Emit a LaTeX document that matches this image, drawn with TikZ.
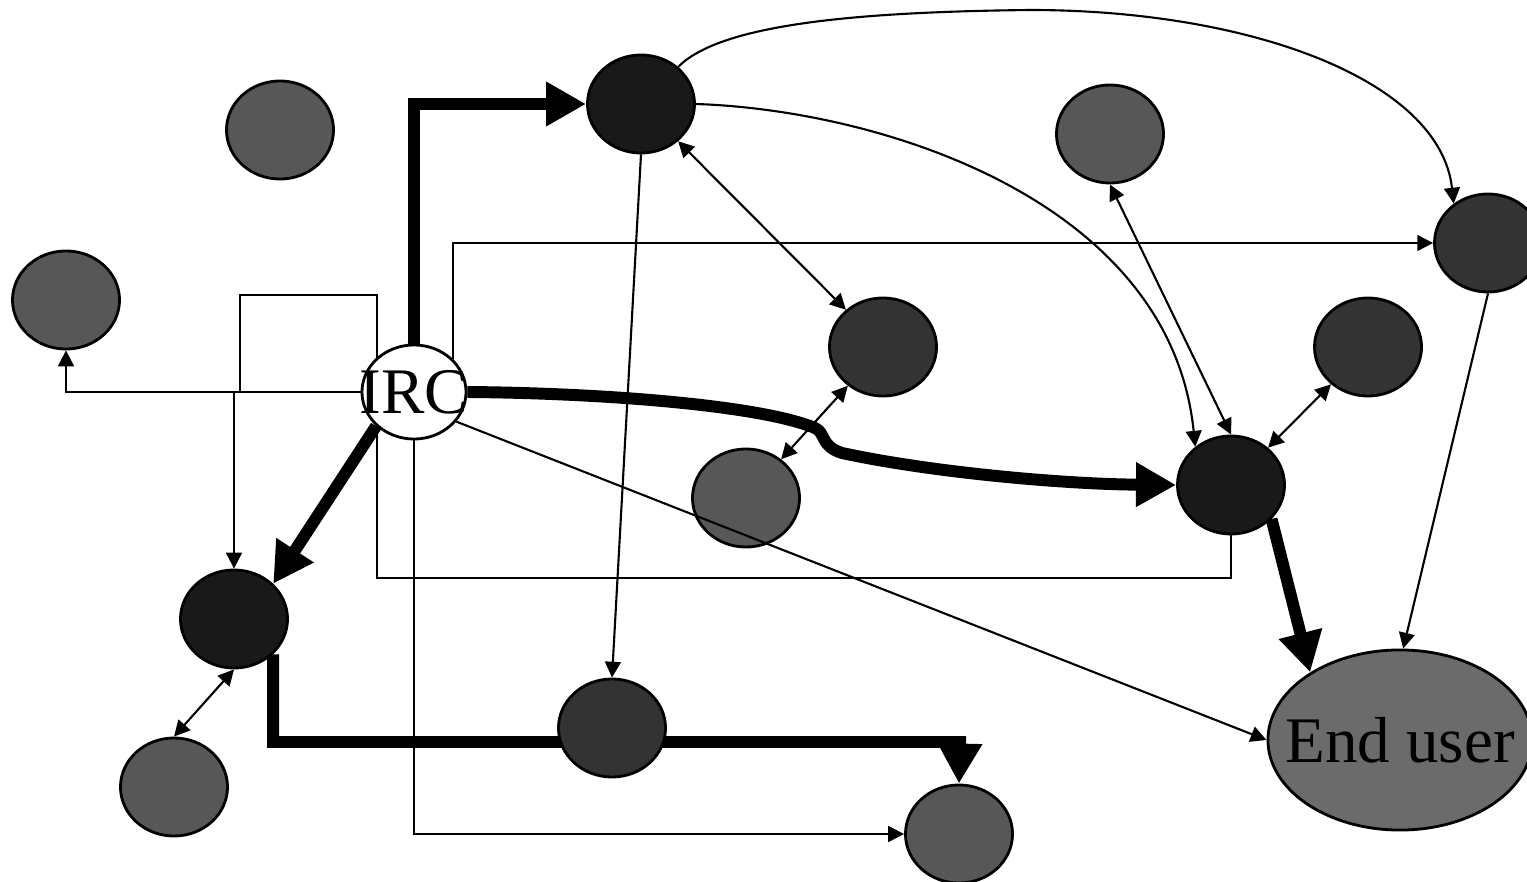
\documentclass[tikz,border=0pt]{standalone}
\usepackage{fontspec}
\setmainfont{Liberation Serif}
\usetikzlibrary{arrows.meta,shapes.geometric,backgrounds}
\tikzset{
  peer/.style={ellipse,draw,line width=0.8pt,inner sep=0pt,minimum width=1.07cm,minimum height=0.98cm},
  hub/.style={ellipse,draw,fill=white,line width=0.8pt,inner sep=0pt,minimum width=1.04cm,minimum height=0.94cm,font=\fontsize{18.5}{20}\selectfont},
  wire/.style={line width=0.6pt},
  link/.style={wire,-{Triangle[length=4.5pt,width=4.5pt]}},
  duplex/.style={wire,{Triangle[length=4.5pt,width=4.5pt]}-{Triangle[length=4.5pt,width=4.5pt]}},
  flow/.style={line width=3.4pt,-{Triangle[length=0.4cm,width=0.42cm]}},
}
\colorlet{mid}{black!66}
\colorlet{dark}{black!80}
\colorlet{vdark}{black!90}
\begin{document}
\begin{tikzpicture}[x=0.01cm,y=-0.01cm]
\useasboundingbox (0,0) rectangle (1527,882);
\node[peer,fill=mid] (p1) at (280,130) {};
\node[peer,fill=mid] (p2) at (66,300) {};
\node[peer,fill=vdark] (p3) at (641,104) {};
\node[peer,fill=mid] (p4) at (1110,134) {};
\node[peer,fill=dark] (p5) at (1488,243) {};
\node[peer,fill=dark] (p6) at (883,347) {};
\node[peer,fill=dark] (p7) at (1368,347) {};
\node[peer,fill=mid] (p8) at (746,498) {};
\node[peer,fill=vdark] (p9) at (1231,485) {};
\node[peer,fill=vdark] (p10) at (234,619) {};
\node[peer,fill=mid] (p11) at (174,787) {};
\node[peer,fill=dark] (p12) at (612,728) {};
\node[peer,fill=mid] (p13) at (959,834) {};
\node[hub] (irc) at (414,392) {\makebox[0pt]{IRC}};
\node[peer,fill=black!58,minimum width=2.64cm,minimum height=1.8cm,font=\fontsize{18.5}{20}\selectfont] (user) at (1400,740) {\makebox[0pt]{End user}};
\coordinate (q1) at (377,578);
\coordinate (q2) at (377,295);
\coordinate (q3) at (240,295);
\coordinate (q4) at (240,392);
\coordinate (bend) at (815,428);
\coordinate (bend2) at (842,453);
\coordinate (top) at (1030,10);
\coordinate (turn) at (960,742);
\begin{scope}[on background layer]
\draw[flow] (irc.north) |- (p3.west);
\draw[link] (irc.40) |- (p5.west);
\draw[link] (irc.west) -| (p2.south);
\draw[link] (irc.west) -| (p10.north);
\draw[wire] (p9.south) |- (q1) -- (q2) -- (q3) -- (q4);
\draw[flow] (irc.222) -- (p10.42);
\draw[flow] (p10.-42) |- (turn) -- (p13.north);
\draw[link] (irc.south) |- (p13.west);
\draw[flow] (irc.east) .. controls (600,393) and (760,405) .. (bend)
  .. controls (826,433) and (820,446) .. (bend2)
  .. controls (930,472) and (1060,484) .. (p9.west);
\draw[link] (p3.south) -- (p12.north);
\draw[link] (p3.east) .. controls (880,110) and (1170,200) .. (p9.133);
\draw[link] (p3.45) .. controls (720,25) and (850,12) .. (top)
  .. controls (1250,10) and (1440,80) .. (p5.131);
\draw[duplex] (p3) -- (p6);
\draw[duplex] (p6) -- (p8);
\draw[duplex] (p4.south) -- (p9.north);
\draw[duplex] (p7) -- (p9);
\draw[duplex] (p10.south) -- (p11.north);
\draw[link] (p5.south) -- (user.88);
\draw[flow] (p9.-40) -- (user.143);
\end{scope}
\draw[link] (irc.-35) -- (user.west);
\end{tikzpicture}
\end{document}
